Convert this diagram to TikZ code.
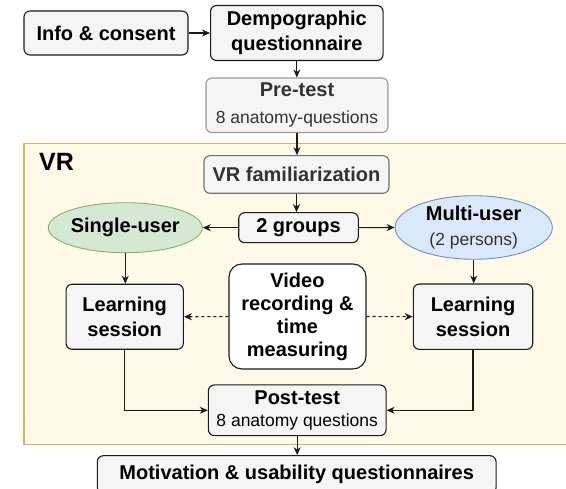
\documentclass[tikz,border=0pt]{standalone}
\usepackage{fontspec}
\setmainfont{Liberation Sans}
\usetikzlibrary{arrows.meta,shapes.geometric}
\definecolor{boxfill}{HTML}{F5F5F5}
\definecolor{greyA}{HTML}{999999}
\definecolor{greyB}{HTML}{707070}
\definecolor{greytext}{HTML}{333333}
\definecolor{vrfill}{HTML}{FFFAE8}
\definecolor{vrline}{HTML}{D6B656}
\definecolor{greenfill}{HTML}{D5E8D4}
\definecolor{greenline}{HTML}{82B366}
\definecolor{bluefill}{HTML}{DAE8FC}
\definecolor{blueline}{HTML}{6C8EBF}
\definecolor{edge}{HTML}{1A1A1A}
\begin{document}
\begin{tikzpicture}[x=1pt,y=-1pt,
  box/.style={draw=edge, fill=boxfill, rounded corners=6pt, line width=1.1pt,
    inner sep=0pt, align=center, font=\bfseries\fontsize{20}{24}\selectfont},
  greybox/.style={box, text=greytext},
  oval/.style={ellipse, draw, line width=0.9pt, inner sep=0pt, align=center,
    font=\bfseries\fontsize{20}{24}\selectfont},
  small/.style={},
  conn/.style={draw=edge, line width=1.1pt, -{Stealth[length=8pt,width=7pt,inset=2.5pt]}},
  dconn/.style={conn, dashed, dash pattern=on 3pt off 3pt}
]
\useasboundingbox (0,0) rectangle (566,489);
\newcommand{\rg}{\mdseries\fontsize{17.5}{21}\selectfont}

% VR zone
\draw[draw=vrline, fill=vrfill, line width=1.1pt] (24,143.3) rectangle (600,444.3);
\node[anchor=base west, inner sep=0pt, font=\bfseries\fontsize{25}{30}\selectfont] (vrlabel) at (39,171) {VR};

% nodes
\node[box, minimum width=164pt, minimum height=44pt] (info) at (106,33) {Info \& consent};
\node[box, minimum width=172.5pt, minimum height=55pt] (demo) at (296.8,33) {Dempographic\\[1pt]questionnaire};
\node[greybox, draw=greyA, minimum width=182pt, minimum height=54.5pt] (pre) at (297,105.3) {Pre-test\\[3pt]{\rg 8 anatomy-questions}};
\node[greybox, draw=greyB, minimum width=185pt, minimum height=37.6pt] (vrfam) at (296.5,174.5) {VR familiarization};
\node[box, minimum width=119.6pt, minimum height=30pt] (groups) at (298.5,227.7) {2 groups};
\node[oval, draw=greenline, fill=greenfill, minimum width=142.7pt, minimum height=50pt] (single) at (125.3,227.7) {Single-user};
\node[oval, draw=blueline, fill=bluefill, minimum width=157.3pt, minimum height=63.6pt] (multi) at (473.7,227.5) {Multi-user\\[1pt]{\rg\color{greytext}(2 persons)}};
\node[box, font=\bfseries\fontsize{20}{25}\selectfont, minimum width=117.3pt, minimum height=65pt] (learnL) at (124.7,316.8) {Learning\\session};
\node[box, fill=white, rounded corners=13pt, font=\bfseries\fontsize{20}{23}\selectfont, minimum width=137pt, minimum height=105pt] (video) at (297.5,316.5) {Video\\recording \&\\time\\measuring};
\node[box, font=\bfseries\fontsize{20}{25}\selectfont, minimum width=119.4pt, minimum height=65.3pt] (learnR) at (473,316.7) {Learning\\session};
\node[box, minimum width=177.7pt, minimum height=50.7pt] (post) at (297.2,410.3) {Post-test\\[-2.4pt]{\rg 8 anatomy questions}};
\node[box, minimum width=398.7pt, minimum height=38pt] (motiv) at (296.7,474.7) {Motivation \& usability questionnaires};

% connectors
\draw[conn] (info) -- (demo);
\draw[conn] (demo.south) -- (demo.south |- pre.north);
\draw[conn] (pre.south) -- (pre.south |- vrfam.north);
\draw[conn] (vrfam.south) -- (vrfam.south |- groups.north);
\draw[conn] (groups.west) -- (single.east);
\draw[conn] (groups.east) -- (multi.west);
\draw[conn] (single.south) -- (single.south |- learnL.north);
\draw[conn] (multi.south) -- (multi.south |- learnR.north);
\draw[dconn] (video.west) -- (learnL.east);
\draw[dconn] (video.east) -- (learnR.east -| learnR.west);
\draw[conn] (learnL.south) |- (post.west);
\draw[conn] (learnR.south) |- (post.east);
\draw[conn] (post.south) -- (post.south |- motiv.north);
\end{tikzpicture}
\end{document}
